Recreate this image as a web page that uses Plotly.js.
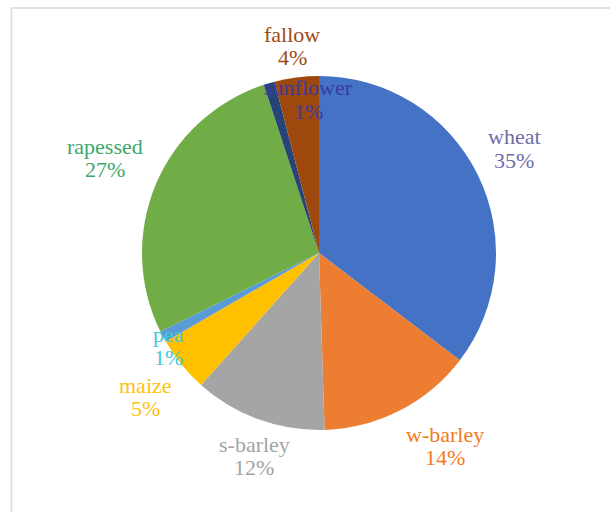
<!DOCTYPE html>
<html>
<head>
<meta charset="utf-8">
<script src="https://cdn.plot.ly/plotly-3.0.1.min.js"></script>
<style>html,body{margin:0;padding:0;background:#fff;}#chart{width:610px;height:512px;}</style>
</head>
<body>
<div id="chart"></div>
<script>
// Data
var categories = ["wheat", "w-barley", "s-barley", "maize", "pea", "rapessed", "sunflower", "fallow"];
var values = [35, 14, 12, 5, 1, 27, 1, 4];
var sliceColors = ["#4472C4", "#ED7D31", "#A5A5A5", "#FFC000", "#5B9BD5", "#70AD47", "#264478", "#9E480E"];
var labelColors = ["#6E6EA8", "#F47A22", "#A3A3A3", "#FFC20E", "#3FCAD6", "#3DA86A", "#3B3BA0", "#A04A12"];
// label line centers in pixels [x, yLine1, yLine2]
var labelPos = [
  [514, 136, 160],
  [445, 434, 457],
  [254, 444, 467],
  [145, 385, 408],
  [168, 334, 357],
  [105, 146, 169],
  [308, 87, 111],
  [292, 34, 57]
];

var W = 610, H = 512;
var cx = 319, cy = 253, R = 177;

var total = values.reduce(function(a, b){ return a + b; }, 0);
var annotations = [];
categories.forEach(function(c, i){
  var pct = Math.round(values[i] / total * 100) + "%";
  var p = labelPos[i];
  [c, pct].forEach(function(t, k){
    annotations.push({
      text: t, showarrow: false, xref: "paper", yref: "paper",
      x: p[0] / W, y: 1 - p[1 + k] / H, xanchor: "center", yanchor: "middle",
      font: {family: "Liberation Serif, Times New Roman, serif", size: 22, color: labelColors[i]}
    });
  });
});

var trace = {
  type: "pie",
  labels: categories,
  values: values,
  sort: false,
  direction: "clockwise",
  rotation: 0,
  marker: {colors: sliceColors, line: {width: 0}},
  textinfo: "none",
  hoverinfo: "label+percent",
  domain: {x: [(cx - R) / W, (cx + R) / W], y: [(H - cy - R) / H, (H - cy + R) / H]}
};

var layout = {
  width: W, height: H,
  margin: {l: 0, r: 0, t: 0, b: 0},
  showlegend: false,
  paper_bgcolor: "#ffffff",
  annotations: annotations,
  shapes: [{
    type: "rect", xref: "paper", yref: "paper",
    x0: 11.5 / W, x1: 1.02, y0: -0.02, y1: 1 - 8 / H,
    line: {color: "#D9D9D9", width: 1.5}, fillcolor: "rgba(0,0,0,0)", layer: "below"
  }]
};

Plotly.newPlot("chart", [trace], layout, {staticPlot: true});
</script>
</body>
</html>
